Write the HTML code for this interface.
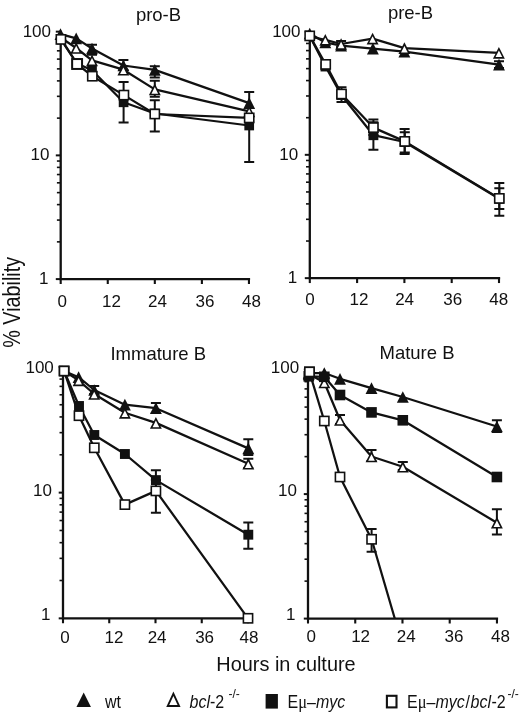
<!DOCTYPE html>
<html lang="en"><head><meta charset="utf-8"><title>Viability in culture</title>
<style>html,body{margin:0;padding:0;background:#fff}svg{display:block;will-change:transform}text{font-family:"Liberation Sans", sans-serif;fill:#111}</style>
</head><body>
<svg width="520" height="717" viewBox="0 0 520 717">
<rect width="520" height="717" fill="#fff"/>
<g><path d="M60.70,30.65V279.10H250.10" stroke="#111" stroke-width="2.3" fill="none" stroke-linejoin="miter"/>
<path d="M55.80,31.65H60.70" stroke="#111" stroke-width="2"/>
<path d="M55.80,155.38H60.70" stroke="#111" stroke-width="2"/>
<path d="M56.90,118.13H60.70" stroke="#111" stroke-width="1.6"/>
<path d="M56.90,96.34H60.70" stroke="#111" stroke-width="1.6"/>
<path d="M56.90,80.89H60.70" stroke="#111" stroke-width="1.6"/>
<path d="M56.90,68.89H60.70" stroke="#111" stroke-width="1.6"/>
<path d="M56.90,59.10H60.70" stroke="#111" stroke-width="1.6"/>
<path d="M56.90,50.82H60.70" stroke="#111" stroke-width="1.6"/>
<path d="M56.90,43.64H60.70" stroke="#111" stroke-width="1.6"/>
<path d="M56.90,37.31H60.70" stroke="#111" stroke-width="1.6"/>
<path d="M55.80,279.10H60.70" stroke="#111" stroke-width="2"/>
<path d="M56.90,241.86H60.70" stroke="#111" stroke-width="1.6"/>
<path d="M56.90,220.07H60.70" stroke="#111" stroke-width="1.6"/>
<path d="M56.90,204.61H60.70" stroke="#111" stroke-width="1.6"/>
<path d="M56.90,192.62H60.70" stroke="#111" stroke-width="1.6"/>
<path d="M56.90,182.82H60.70" stroke="#111" stroke-width="1.6"/>
<path d="M56.90,174.54H60.70" stroke="#111" stroke-width="1.6"/>
<path d="M56.90,167.37H60.70" stroke="#111" stroke-width="1.6"/>
<path d="M56.90,161.04H60.70" stroke="#111" stroke-width="1.6"/>
<path d="M60.70,279.10V284.00" stroke="#111" stroke-width="2.1"/>
<text x="62.25" y="307.10" text-anchor="middle" font-size="17">0</text>
<path d="M107.76,279.10V284.00" stroke="#111" stroke-width="2.1"/>
<text x="111.50" y="307.10" text-anchor="middle" font-size="17">12</text>
<path d="M154.82,279.10V284.00" stroke="#111" stroke-width="2.1"/>
<text x="157.50" y="307.10" text-anchor="middle" font-size="17">24</text>
<path d="M201.89,279.10V284.00" stroke="#111" stroke-width="2.1"/>
<text x="205.00" y="307.10" text-anchor="middle" font-size="17">36</text>
<path d="M248.95,279.10V284.00" stroke="#111" stroke-width="2.1"/>
<text x="251.50" y="307.10" text-anchor="middle" font-size="17">48</text>
<text x="51.00" y="37.00" text-anchor="end" font-size="17">100</text>
<text x="49.40" y="160.30" text-anchor="end" font-size="17">10</text>
<text x="48.50" y="283.60" text-anchor="end" font-size="17">1</text>
<text x="158.5" y="21.4" text-anchor="middle" font-size="18.5">pro-B</text>
<path d="M60.5,38.0 L76.6,63.2 L92.0,70.2 L123.6,102.3 L154.8,113.5 L249.2,125.5" stroke="#111" stroke-width="2.25" fill="none" stroke-linejoin="round"/>
<path d="M60.5,34.1 L76.2,38.4 L92.0,48.5 L123.4,65.5 L154.8,69.9 L249.2,103.1" stroke="#111" stroke-width="2.25" fill="none" stroke-linejoin="round"/>
<path d="M60.5,37.5 L76.2,48.0 L92.0,60.3 L123.4,69.7 L154.8,89.4 L249.2,111.3" stroke="#111" stroke-width="2.25" fill="none" stroke-linejoin="round"/>
<path d="M60.9,39.4 L77.1,64.0 L92.3,76.2 L123.9,95.1 L154.8,114.0 L249.2,117.9" stroke="#111" stroke-width="2.25" fill="none" stroke-linejoin="round"/>
<path d="M123.6,82.0V122.6M118.6,82.0H128.6M118.6,122.6H128.6" stroke="#111" stroke-width="2" fill="none"/>
<path d="M249.2,91.9V161.9M244.2,91.9H254.2M244.2,161.9H254.2" stroke="#111" stroke-width="2" fill="none"/>
<path d="M154.8,66.3V77.6M149.8,66.3H159.8M149.8,77.6H159.8" stroke="#111" stroke-width="2" fill="none"/>
<path d="M92.0,44.7V54.8M87.0,44.7H97.0M87.0,54.8H97.0" stroke="#111" stroke-width="2" fill="none"/>
<path d="M123.4,59.9V70.0M118.4,59.9H128.4M118.4,70.0H128.4" stroke="#111" stroke-width="2" fill="none"/>
<path d="M154.8,80.8V96.8M149.8,80.8H159.8M149.8,96.8H159.8" stroke="#111" stroke-width="2" fill="none"/>
<path d="M154.8,100.2V131.5M149.8,100.2H159.8M149.8,131.5H159.8" stroke="#111" stroke-width="2" fill="none"/>
<rect x="71.75" y="58.35" width="9.70" height="9.70" fill="#111"/>
<rect x="87.15" y="65.35" width="9.70" height="9.70" fill="#111"/>
<rect x="118.75" y="97.45" width="9.70" height="9.70" fill="#111"/>
<rect x="149.95" y="108.65" width="9.70" height="9.70" fill="#111"/>
<rect x="244.35" y="120.65" width="9.70" height="9.70" fill="#111"/>
<polygon points="60.50,28.25 66.45,39.95 54.55,39.95" fill="#111"/>
<polygon points="76.20,32.55 82.15,44.25 70.25,44.25" fill="#111"/>
<polygon points="92.00,42.65 97.95,54.35 86.05,54.35" fill="#111"/>
<polygon points="123.40,59.65 129.35,71.35 117.45,71.35" fill="#111"/>
<polygon points="154.80,64.05 160.75,75.75 148.85,75.75" fill="#111"/>
<polygon points="249.20,97.25 255.15,108.95 243.25,108.95" fill="#111"/>
<polygon points="76.20,42.15 82.15,53.85 70.25,53.85" fill="#111"/><polygon points="76.20,45.68 79.54,52.25 72.86,52.25" fill="#fff"/>
<polygon points="92.00,54.45 97.95,66.15 86.05,66.15" fill="#111"/><polygon points="92.00,57.98 95.34,64.55 88.66,64.55" fill="#fff"/>
<polygon points="123.40,63.85 129.35,75.55 117.45,75.55" fill="#111"/><polygon points="123.40,67.38 126.74,73.95 120.06,73.95" fill="#fff"/>
<polygon points="154.80,83.55 160.75,95.25 148.85,95.25" fill="#111"/><polygon points="154.80,87.08 158.14,93.65 151.46,93.65" fill="#fff"/>
<polygon points="249.20,105.45 255.15,117.15 243.25,117.15" fill="#111"/><polygon points="249.20,108.98 252.54,115.55 245.86,115.55" fill="#fff"/>
<rect x="55.50" y="34.00" width="10.80" height="10.80" fill="#111"/><rect x="57.10" y="35.60" width="7.60" height="7.60" fill="#fff"/>
<rect x="71.15" y="58.05" width="11.90" height="11.90" fill="#111"/><rect x="73.15" y="60.05" width="7.90" height="7.90" fill="#fff"/>
<rect x="86.90" y="70.80" width="10.80" height="10.80" fill="#111"/><rect x="88.50" y="72.40" width="7.60" height="7.60" fill="#fff"/>
<rect x="118.50" y="89.70" width="10.80" height="10.80" fill="#111"/><rect x="120.10" y="91.30" width="7.60" height="7.60" fill="#fff"/>
<rect x="149.40" y="108.60" width="10.80" height="10.80" fill="#111"/><rect x="151.00" y="110.20" width="7.60" height="7.60" fill="#fff"/>
<rect x="243.80" y="112.50" width="10.80" height="10.80" fill="#111"/><rect x="245.40" y="114.10" width="7.60" height="7.60" fill="#fff"/></g>
<g><path d="M309.80,30.50V278.15H500.15" stroke="#111" stroke-width="2.3" fill="none" stroke-linejoin="miter"/>
<path d="M304.80,31.50H309.80" stroke="#111" stroke-width="2"/>
<path d="M304.80,154.82H309.80" stroke="#111" stroke-width="2"/>
<path d="M306.00,117.70H309.80" stroke="#111" stroke-width="1.6"/>
<path d="M306.00,95.98H309.80" stroke="#111" stroke-width="1.6"/>
<path d="M306.00,80.58H309.80" stroke="#111" stroke-width="1.6"/>
<path d="M306.00,68.62H309.80" stroke="#111" stroke-width="1.6"/>
<path d="M306.00,58.86H309.80" stroke="#111" stroke-width="1.6"/>
<path d="M306.00,50.60H309.80" stroke="#111" stroke-width="1.6"/>
<path d="M306.00,43.45H309.80" stroke="#111" stroke-width="1.6"/>
<path d="M306.00,37.14H309.80" stroke="#111" stroke-width="1.6"/>
<path d="M304.80,278.15H309.80" stroke="#111" stroke-width="2"/>
<path d="M306.00,241.03H309.80" stroke="#111" stroke-width="1.6"/>
<path d="M306.00,219.31H309.80" stroke="#111" stroke-width="1.6"/>
<path d="M306.00,203.90H309.80" stroke="#111" stroke-width="1.6"/>
<path d="M306.00,191.95H309.80" stroke="#111" stroke-width="1.6"/>
<path d="M306.00,182.18H309.80" stroke="#111" stroke-width="1.6"/>
<path d="M306.00,173.93H309.80" stroke="#111" stroke-width="1.6"/>
<path d="M306.00,166.78H309.80" stroke="#111" stroke-width="1.6"/>
<path d="M306.00,160.47H309.80" stroke="#111" stroke-width="1.6"/>
<path d="M309.80,278.15V283.05" stroke="#111" stroke-width="2.1"/>
<text x="310.00" y="304.60" text-anchor="middle" font-size="17">0</text>
<path d="M357.10,278.15V283.05" stroke="#111" stroke-width="2.1"/>
<text x="359.00" y="304.60" text-anchor="middle" font-size="17">12</text>
<path d="M404.40,278.15V283.05" stroke="#111" stroke-width="2.1"/>
<text x="404.60" y="304.60" text-anchor="middle" font-size="17">24</text>
<path d="M451.70,278.15V283.05" stroke="#111" stroke-width="2.1"/>
<text x="452.75" y="304.60" text-anchor="middle" font-size="17">36</text>
<path d="M499.00,278.15V283.05" stroke="#111" stroke-width="2.1"/>
<text x="498.75" y="304.60" text-anchor="middle" font-size="17">48</text>
<text x="300.50" y="37.00" text-anchor="end" font-size="17">100</text>
<text x="298.20" y="159.90" text-anchor="end" font-size="17">10</text>
<text x="297.10" y="283.30" text-anchor="end" font-size="17">1</text>
<text x="410.5" y="19.4" text-anchor="middle" font-size="18.5">pre-B</text>
<path d="M309.7,36.0 L325.5,66.5 L341.3,95.0 L373.4,135.2 L404.6,142.0 L499.3,198.8" stroke="#111" stroke-width="2.25" fill="none" stroke-linejoin="round"/>
<path d="M309.7,33.5 L325.3,42.5 L341.1,45.6 L372.9,48.6 L404.4,51.6 L499.0,64.6" stroke="#111" stroke-width="2.25" fill="none" stroke-linejoin="round"/>
<path d="M309.7,36.5 L325.3,39.8 L341.1,44.0 L372.6,38.6 L404.4,48.2 L498.9,52.8" stroke="#111" stroke-width="2.25" fill="none" stroke-linejoin="round"/>
<path d="M309.7,35.9 L325.7,64.4 L341.5,94.0 L373.4,127.6 L404.8,141.4 L499.3,198.4" stroke="#111" stroke-width="2.25" fill="none" stroke-linejoin="round"/>
<path d="M373.4,119.5V149.8M368.4,119.5H378.4M368.4,149.8H378.4" stroke="#111" stroke-width="2" fill="none"/>
<path d="M404.6,128.9V154.0M399.6,128.9H409.6M399.6,154.0H409.6" stroke="#111" stroke-width="2" fill="none"/>
<path d="M499.3,183.0V215.7M494.3,183.0H504.3M494.3,215.7H504.3" stroke="#111" stroke-width="2" fill="none"/>
<path d="M499.0,61.2V68.0M494.0,61.2H504.0M494.0,68.0H504.0" stroke="#111" stroke-width="2" fill="none"/>
<path d="M341.1,41.0V47.0M336.1,41.0H346.1M336.1,47.0H346.1" stroke="#111" stroke-width="2" fill="none"/>
<path d="M341.5,87.3V102.0M336.5,87.3H346.5M336.5,102.0H346.5" stroke="#111" stroke-width="2" fill="none"/>
<path d="M373.4,122.2V135.0M368.4,122.2H378.4M368.4,135.0H378.4" stroke="#111" stroke-width="2" fill="none"/>
<path d="M404.8,132.3V152.6M399.8,132.3H409.8M399.8,152.6H409.8" stroke="#111" stroke-width="2" fill="none"/>
<path d="M499.3,188.3V208.9M494.3,188.3H504.3M494.3,208.9H504.3" stroke="#111" stroke-width="2" fill="none"/>
<rect x="320.55" y="61.55" width="9.90" height="9.90" fill="#111"/>
<rect x="336.35" y="90.05" width="9.90" height="9.90" fill="#111"/>
<rect x="368.45" y="130.25" width="9.90" height="9.90" fill="#111"/>
<rect x="399.65" y="137.05" width="9.90" height="9.90" fill="#111"/>
<rect x="494.35" y="193.85" width="9.90" height="9.90" fill="#111"/>
<polygon points="309.70,27.65 315.65,39.35 303.75,39.35" fill="#111"/>
<polygon points="325.30,36.65 331.25,48.35 319.35,48.35" fill="#111"/>
<polygon points="341.10,39.75 347.05,51.45 335.15,51.45" fill="#111"/>
<polygon points="372.90,42.75 378.85,54.45 366.95,54.45" fill="#111"/>
<polygon points="404.40,45.75 410.35,57.45 398.45,57.45" fill="#111"/>
<polygon points="499.00,58.75 504.95,70.45 493.05,70.45" fill="#111"/>
<polygon points="325.30,33.95 331.25,45.65 319.35,45.65" fill="#111"/><polygon points="325.30,37.48 328.64,44.05 321.96,44.05" fill="#fff"/>
<polygon points="341.10,38.15 347.05,49.85 335.15,49.85" fill="#111"/><polygon points="341.10,41.68 344.44,48.25 337.76,48.25" fill="#fff"/>
<polygon points="372.60,32.75 378.55,44.45 366.65,44.45" fill="#111"/><polygon points="372.60,36.28 375.94,42.85 369.26,42.85" fill="#fff"/>
<polygon points="404.40,42.35 410.35,54.05 398.45,54.05" fill="#111"/><polygon points="404.40,45.88 407.74,52.45 401.06,52.45" fill="#fff"/>
<polygon points="498.90,46.95 504.85,58.65 492.95,58.65" fill="#111"/><polygon points="498.90,50.48 502.24,57.05 495.56,57.05" fill="#fff"/>
<rect x="304.30" y="30.50" width="10.80" height="10.80" fill="#111"/><rect x="305.90" y="32.10" width="7.60" height="7.60" fill="#fff"/>
<rect x="320.30" y="59.00" width="10.80" height="10.80" fill="#111"/><rect x="321.90" y="60.60" width="7.60" height="7.60" fill="#fff"/>
<rect x="336.10" y="88.60" width="10.80" height="10.80" fill="#111"/><rect x="337.70" y="90.20" width="7.60" height="7.60" fill="#fff"/>
<rect x="368.00" y="122.20" width="10.80" height="10.80" fill="#111"/><rect x="369.60" y="123.80" width="7.60" height="7.60" fill="#fff"/>
<rect x="399.40" y="136.00" width="10.80" height="10.80" fill="#111"/><rect x="401.00" y="137.60" width="7.60" height="7.60" fill="#fff"/>
<rect x="493.90" y="193.00" width="10.80" height="10.80" fill="#111"/><rect x="495.50" y="194.60" width="7.60" height="7.60" fill="#fff"/></g>
<g><path d="M63.00,365.90V618.35H249.15" stroke="#111" stroke-width="2.3" fill="none" stroke-linejoin="miter"/>
<path d="M58.70,366.90H63.00" stroke="#111" stroke-width="2"/>
<path d="M58.70,492.62H63.00" stroke="#111" stroke-width="2"/>
<path d="M59.50,454.78H63.00" stroke="#111" stroke-width="1.6"/>
<path d="M59.50,432.64H63.00" stroke="#111" stroke-width="1.6"/>
<path d="M59.50,416.93H63.00" stroke="#111" stroke-width="1.6"/>
<path d="M59.50,404.75H63.00" stroke="#111" stroke-width="1.6"/>
<path d="M59.50,394.79H63.00" stroke="#111" stroke-width="1.6"/>
<path d="M59.50,386.38H63.00" stroke="#111" stroke-width="1.6"/>
<path d="M59.50,379.08H63.00" stroke="#111" stroke-width="1.6"/>
<path d="M59.50,372.65H63.00" stroke="#111" stroke-width="1.6"/>
<path d="M58.70,618.35H63.00" stroke="#111" stroke-width="2"/>
<path d="M59.50,580.50H63.00" stroke="#111" stroke-width="1.6"/>
<path d="M59.50,558.36H63.00" stroke="#111" stroke-width="1.6"/>
<path d="M59.50,542.66H63.00" stroke="#111" stroke-width="1.6"/>
<path d="M59.50,530.47H63.00" stroke="#111" stroke-width="1.6"/>
<path d="M59.50,520.52H63.00" stroke="#111" stroke-width="1.6"/>
<path d="M59.50,512.10H63.00" stroke="#111" stroke-width="1.6"/>
<path d="M59.50,504.81H63.00" stroke="#111" stroke-width="1.6"/>
<path d="M59.50,498.38H63.00" stroke="#111" stroke-width="1.6"/>
<path d="M63.00,618.35V623.25" stroke="#111" stroke-width="2.1"/>
<text x="65.00" y="643.20" text-anchor="middle" font-size="17">0</text>
<path d="M109.25,618.35V623.25" stroke="#111" stroke-width="2.1"/>
<text x="114.00" y="643.20" text-anchor="middle" font-size="17">12</text>
<path d="M155.50,618.35V623.25" stroke="#111" stroke-width="2.1"/>
<text x="157.10" y="643.20" text-anchor="middle" font-size="17">24</text>
<path d="M201.75,618.35V623.25" stroke="#111" stroke-width="2.1"/>
<text x="204.60" y="643.20" text-anchor="middle" font-size="17">36</text>
<path d="M248.00,618.35V623.25" stroke="#111" stroke-width="2.1"/>
<text x="249.00" y="643.20" text-anchor="middle" font-size="17">48</text>
<text x="53.80" y="373.20" text-anchor="end" font-size="17">100</text>
<text x="51.85" y="496.40" text-anchor="end" font-size="17">10</text>
<text x="50.50" y="619.60" text-anchor="end" font-size="17">1</text>
<text x="158.3" y="360.1" text-anchor="middle" font-size="18.5">Immature B</text>
<path d="M64.1,371.0 L79.0,406.0 L94.3,435.0 L124.9,454.0 L155.9,480.1 L248.3,534.7" stroke="#111" stroke-width="2.25" fill="none" stroke-linejoin="round"/>
<path d="M64.1,371.0 L78.6,377.2 L94.2,390.0 L124.9,404.7 L155.9,408.2 L248.3,448.4" stroke="#111" stroke-width="2.25" fill="none" stroke-linejoin="round"/>
<path d="M64.1,371.0 L78.6,380.3 L94.2,394.0 L124.9,412.8 L155.9,422.9 L248.3,463.7" stroke="#111" stroke-width="2.25" fill="none" stroke-linejoin="round"/>
<path d="M64.1,371.0 L79.0,415.7 L94.3,447.8 L124.9,504.6 L155.9,490.9 L248.0,618.3" stroke="#111" stroke-width="2.25" fill="none" stroke-linejoin="round"/>
<path d="M155.9,470.3V490.0M150.9,470.3H160.9M150.9,490.0H160.9" stroke="#111" stroke-width="2" fill="none"/>
<path d="M248.3,522.6V548.7M243.3,522.6H253.3M243.3,548.7H253.3" stroke="#111" stroke-width="2" fill="none"/>
<path d="M248.3,439.2V455.0M243.3,439.2H253.3M243.3,455.0H253.3" stroke="#111" stroke-width="2" fill="none"/>
<path d="M155.9,403.0V413.0M150.9,403.0H160.9M150.9,413.0H160.9" stroke="#111" stroke-width="2" fill="none"/>
<path d="M94.2,386.0V394.0M89.2,386.0H99.2M89.2,394.0H99.2" stroke="#111" stroke-width="2" fill="none"/>
<path d="M248.3,458.8V468.0M243.3,458.8H253.3M243.3,468.0H253.3" stroke="#111" stroke-width="2" fill="none"/>
<path d="M155.9,480.0V512.8M150.9,480.0H160.9M150.9,512.8H160.9" stroke="#111" stroke-width="2" fill="none"/>
<rect x="74.05" y="401.05" width="9.90" height="9.90" fill="#111"/>
<rect x="89.35" y="430.05" width="9.90" height="9.90" fill="#111"/>
<rect x="119.95" y="449.05" width="9.90" height="9.90" fill="#111"/>
<rect x="150.95" y="475.15" width="9.90" height="9.90" fill="#111"/>
<rect x="243.35" y="529.75" width="9.90" height="9.90" fill="#111"/>
<polygon points="78.60,371.35 84.55,383.05 72.65,383.05" fill="#111"/>
<polygon points="94.20,384.15 100.15,395.85 88.25,395.85" fill="#111"/>
<polygon points="124.90,398.85 130.85,410.55 118.95,410.55" fill="#111"/>
<polygon points="155.90,402.35 161.85,414.05 149.95,414.05" fill="#111"/>
<polygon points="248.30,442.55 254.25,454.25 242.35,454.25" fill="#111"/>
<polygon points="78.60,374.45 84.55,386.15 72.65,386.15" fill="#111"/><polygon points="78.60,377.98 81.94,384.55 75.26,384.55" fill="#fff"/>
<polygon points="94.20,388.15 100.15,399.85 88.25,399.85" fill="#111"/><polygon points="94.20,391.68 97.54,398.25 90.86,398.25" fill="#fff"/>
<polygon points="124.90,406.95 130.85,418.65 118.95,418.65" fill="#111"/><polygon points="124.90,410.48 128.24,417.05 121.56,417.05" fill="#fff"/>
<polygon points="155.90,417.05 161.85,428.75 149.95,428.75" fill="#111"/><polygon points="155.90,420.58 159.24,427.15 152.56,427.15" fill="#fff"/>
<polygon points="248.30,457.85 254.25,469.55 242.35,469.55" fill="#111"/><polygon points="248.30,461.38 251.64,467.95 244.96,467.95" fill="#fff"/>
<rect x="58.70" y="365.60" width="10.80" height="10.80" fill="#111"/><rect x="60.30" y="367.20" width="7.60" height="7.60" fill="#fff"/>
<rect x="73.60" y="410.30" width="10.80" height="10.80" fill="#111"/><rect x="75.20" y="411.90" width="7.60" height="7.60" fill="#fff"/>
<rect x="88.90" y="442.40" width="10.80" height="10.80" fill="#111"/><rect x="90.50" y="444.00" width="7.60" height="7.60" fill="#fff"/>
<rect x="119.50" y="499.20" width="10.80" height="10.80" fill="#111"/><rect x="121.10" y="500.80" width="7.60" height="7.60" fill="#fff"/>
<rect x="150.50" y="485.50" width="10.80" height="10.80" fill="#111"/><rect x="152.10" y="487.10" width="7.60" height="7.60" fill="#fff"/>
<rect x="242.60" y="612.90" width="10.80" height="10.80" fill="#111"/><rect x="244.20" y="614.50" width="7.60" height="7.60" fill="#fff"/>
<rect x="58.70" y="365.60" width="10.80" height="10.80" fill="#111"/><rect x="60.30" y="367.20" width="7.60" height="7.60" fill="#fff"/></g>
<g><path d="M308.00,368.60V618.60H498.10" stroke="#111" stroke-width="2.3" fill="none" stroke-linejoin="miter"/>
<path d="M303.80,369.60H308.00" stroke="#111" stroke-width="2"/>
<path d="M303.80,494.10H308.00" stroke="#111" stroke-width="2"/>
<path d="M304.50,456.62H308.00" stroke="#111" stroke-width="1.6"/>
<path d="M304.50,434.70H308.00" stroke="#111" stroke-width="1.6"/>
<path d="M304.50,419.14H308.00" stroke="#111" stroke-width="1.6"/>
<path d="M304.50,407.08H308.00" stroke="#111" stroke-width="1.6"/>
<path d="M304.50,397.22H308.00" stroke="#111" stroke-width="1.6"/>
<path d="M304.50,388.89H308.00" stroke="#111" stroke-width="1.6"/>
<path d="M304.50,381.67H308.00" stroke="#111" stroke-width="1.6"/>
<path d="M304.50,375.30H308.00" stroke="#111" stroke-width="1.6"/>
<path d="M303.80,618.60H308.00" stroke="#111" stroke-width="2"/>
<path d="M304.50,581.12H308.00" stroke="#111" stroke-width="1.6"/>
<path d="M304.50,559.20H308.00" stroke="#111" stroke-width="1.6"/>
<path d="M304.50,543.64H308.00" stroke="#111" stroke-width="1.6"/>
<path d="M304.50,531.58H308.00" stroke="#111" stroke-width="1.6"/>
<path d="M304.50,521.72H308.00" stroke="#111" stroke-width="1.6"/>
<path d="M304.50,513.39H308.00" stroke="#111" stroke-width="1.6"/>
<path d="M304.50,506.17H308.00" stroke="#111" stroke-width="1.6"/>
<path d="M304.50,499.80H308.00" stroke="#111" stroke-width="1.6"/>
<path d="M308.00,618.60V623.50" stroke="#111" stroke-width="2.1"/>
<text x="311.25" y="641.70" text-anchor="middle" font-size="17">0</text>
<path d="M355.24,618.60V623.50" stroke="#111" stroke-width="2.1"/>
<text x="360.60" y="641.70" text-anchor="middle" font-size="17">12</text>
<path d="M402.48,618.60V623.50" stroke="#111" stroke-width="2.1"/>
<text x="406.25" y="641.70" text-anchor="middle" font-size="17">24</text>
<path d="M449.71,618.60V623.50" stroke="#111" stroke-width="2.1"/>
<text x="454.00" y="641.70" text-anchor="middle" font-size="17">36</text>
<path d="M496.95,618.60V623.50" stroke="#111" stroke-width="2.1"/>
<text x="500.40" y="641.70" text-anchor="middle" font-size="17">48</text>
<text x="299.20" y="373.20" text-anchor="end" font-size="17">100</text>
<text x="296.85" y="496.40" text-anchor="end" font-size="17">10</text>
<text x="295.40" y="619.60" text-anchor="end" font-size="17">1</text>
<text x="417" y="359.2" text-anchor="middle" font-size="18.5">Mature B</text>
<path d="M308.8,373.0 L324.3,373.0 L340.0,378.8 L371.5,388.1 L402.8,397.0 L496.9,426.5" stroke="#111" stroke-width="2.25" fill="none" stroke-linejoin="round"/>
<path d="M308.8,374.0 L324.3,382.5 L340.0,420.0 L371.5,456.5 L402.8,466.7 L496.9,522.7" stroke="#111" stroke-width="2.25" fill="none" stroke-linejoin="round"/>
<path d="M308.8,376.3 L324.3,376.8 L340.0,395.0 L371.5,412.4 L402.8,420.3 L496.9,477.0" stroke="#111" stroke-width="2.25" fill="none" stroke-linejoin="round"/>
<path d="M309.4,371.9 L324.3,421.0 L340.0,477.0 L371.6,539.3 L394.7,618.2" stroke="#111" stroke-width="2.25" fill="none" stroke-linejoin="round"/>
<path d="M496.9,420.2V432.0M491.9,420.2H501.9M491.9,432.0H501.9" stroke="#111" stroke-width="2" fill="none"/>
<path d="M340.0,415.0V424.0M335.0,415.0H345.0M335.0,424.0H345.0" stroke="#111" stroke-width="2" fill="none"/>
<path d="M371.5,450.0V461.0M366.5,450.0H376.5M366.5,461.0H376.5" stroke="#111" stroke-width="2" fill="none"/>
<path d="M402.8,462.0V470.0M397.8,462.0H407.8M397.8,470.0H407.8" stroke="#111" stroke-width="2" fill="none"/>
<path d="M496.9,509.3V534.4M491.9,509.3H501.9M491.9,534.4H501.9" stroke="#111" stroke-width="2" fill="none"/>
<path d="M371.6,528.9V551.8M366.6,528.9H376.6M366.6,551.8H376.6" stroke="#111" stroke-width="2" fill="none"/>
<polygon points="308.75,367.15 314.70,378.85 302.80,378.85" fill="#111"/>
<polygon points="324.30,367.15 330.25,378.85 318.35,378.85" fill="#111"/>
<polygon points="340.00,372.95 345.95,384.65 334.05,384.65" fill="#111"/>
<polygon points="371.50,382.25 377.45,393.95 365.55,393.95" fill="#111"/>
<polygon points="402.80,391.15 408.75,402.85 396.85,402.85" fill="#111"/>
<polygon points="496.90,420.65 502.85,432.35 490.95,432.35" fill="#111"/>
<polygon points="308.75,368.15 314.70,379.85 302.80,379.85" fill="#111"/><polygon points="308.75,371.68 312.09,378.25 305.41,378.25" fill="#fff"/>
<polygon points="324.30,376.65 330.25,388.35 318.35,388.35" fill="#111"/><polygon points="324.30,380.18 327.64,386.75 320.96,386.75" fill="#fff"/>
<polygon points="340.00,414.15 345.95,425.85 334.05,425.85" fill="#111"/><polygon points="340.00,417.68 343.34,424.25 336.66,424.25" fill="#fff"/>
<polygon points="371.50,450.65 377.45,462.35 365.55,462.35" fill="#111"/><polygon points="371.50,454.18 374.84,460.75 368.16,460.75" fill="#fff"/>
<polygon points="402.80,460.85 408.75,472.55 396.85,472.55" fill="#111"/><polygon points="402.80,464.38 406.14,470.95 399.46,470.95" fill="#fff"/>
<polygon points="496.90,516.85 502.85,528.55 490.95,528.55" fill="#111"/><polygon points="496.90,520.38 500.24,526.95 493.56,526.95" fill="#fff"/>
<rect x="303.45" y="371.00" width="10.60" height="10.60" fill="#111"/>
<rect x="319.00" y="371.50" width="10.60" height="10.60" fill="#111"/>
<rect x="334.70" y="389.70" width="10.60" height="10.60" fill="#111"/>
<rect x="366.20" y="407.10" width="10.60" height="10.60" fill="#111"/>
<rect x="397.50" y="415.00" width="10.60" height="10.60" fill="#111"/>
<rect x="491.60" y="471.70" width="10.60" height="10.60" fill="#111"/>
<rect x="304.05" y="366.50" width="10.80" height="10.80" fill="#111"/><rect x="305.65" y="368.10" width="7.60" height="7.60" fill="#fff"/>
<rect x="318.90" y="415.60" width="10.80" height="10.80" fill="#111"/><rect x="320.50" y="417.20" width="7.60" height="7.60" fill="#fff"/>
<rect x="334.60" y="471.60" width="10.80" height="10.80" fill="#111"/><rect x="336.20" y="473.20" width="7.60" height="7.60" fill="#fff"/>
<rect x="366.20" y="533.90" width="10.80" height="10.80" fill="#111"/><rect x="367.80" y="535.50" width="7.60" height="7.60" fill="#fff"/>
<rect x="304.05" y="366.50" width="10.80" height="10.80" fill="#111"/><rect x="305.65" y="368.10" width="7.60" height="7.60" fill="#fff"/></g>
<text transform="translate(19.6,302.3) rotate(-90) scale(0.842,1)" text-anchor="middle" font-size="23.5">% Viability</text>
<text x="286" y="670.8" text-anchor="middle" font-size="19.9">Hours in culture</text>
<polygon points="83.70,692.50 90.95,707.10 76.45,707.10" fill="#111"/>
<text transform="translate(105,707.5) scale(0.914,1)" font-size="17.5">wt</text>
<polygon points="173.40,691.40 180.55,707.00 166.25,707.00" fill="#111"/><polygon points="173.40,695.96 177.59,705.10 169.21,705.10" fill="#fff"/>
<text transform="translate(189.5,707.7) scale(0.914,1)" font-size="17.5"><tspan font-style="italic">bcl</tspan>-2</text>
<text transform="translate(228.5,697.5) scale(1,1)" font-size="12">-/-</text>
<rect x="265.6" y="694" width="12.3" height="14.6" fill="#111"/>
<text transform="translate(287.5,707.7) scale(0.914,1)" font-size="17.5">E<tspan font-family="'Liberation Serif', 'DejaVu Serif', serif" font-size="18">μ</tspan>–<tspan font-style="italic">myc</tspan></text>
<rect x="386.9" y="695.8" width="9.6" height="11.6" fill="#fff" stroke="#111" stroke-width="2.1"/>
<text transform="translate(407,708) scale(0.914,1)" font-size="17.5">E<tspan font-family="'Liberation Serif', 'DejaVu Serif', serif" font-size="18">μ</tspan>–<tspan font-style="italic">myc</tspan><tspan dx="0.8">/</tspan><tspan font-style="italic" dx="0.8">bcl</tspan><tspan dx="0.5">-2</tspan></text>
<text transform="translate(507.5,698) scale(1,1)" font-size="12">-/-</text>
</svg></body></html>
